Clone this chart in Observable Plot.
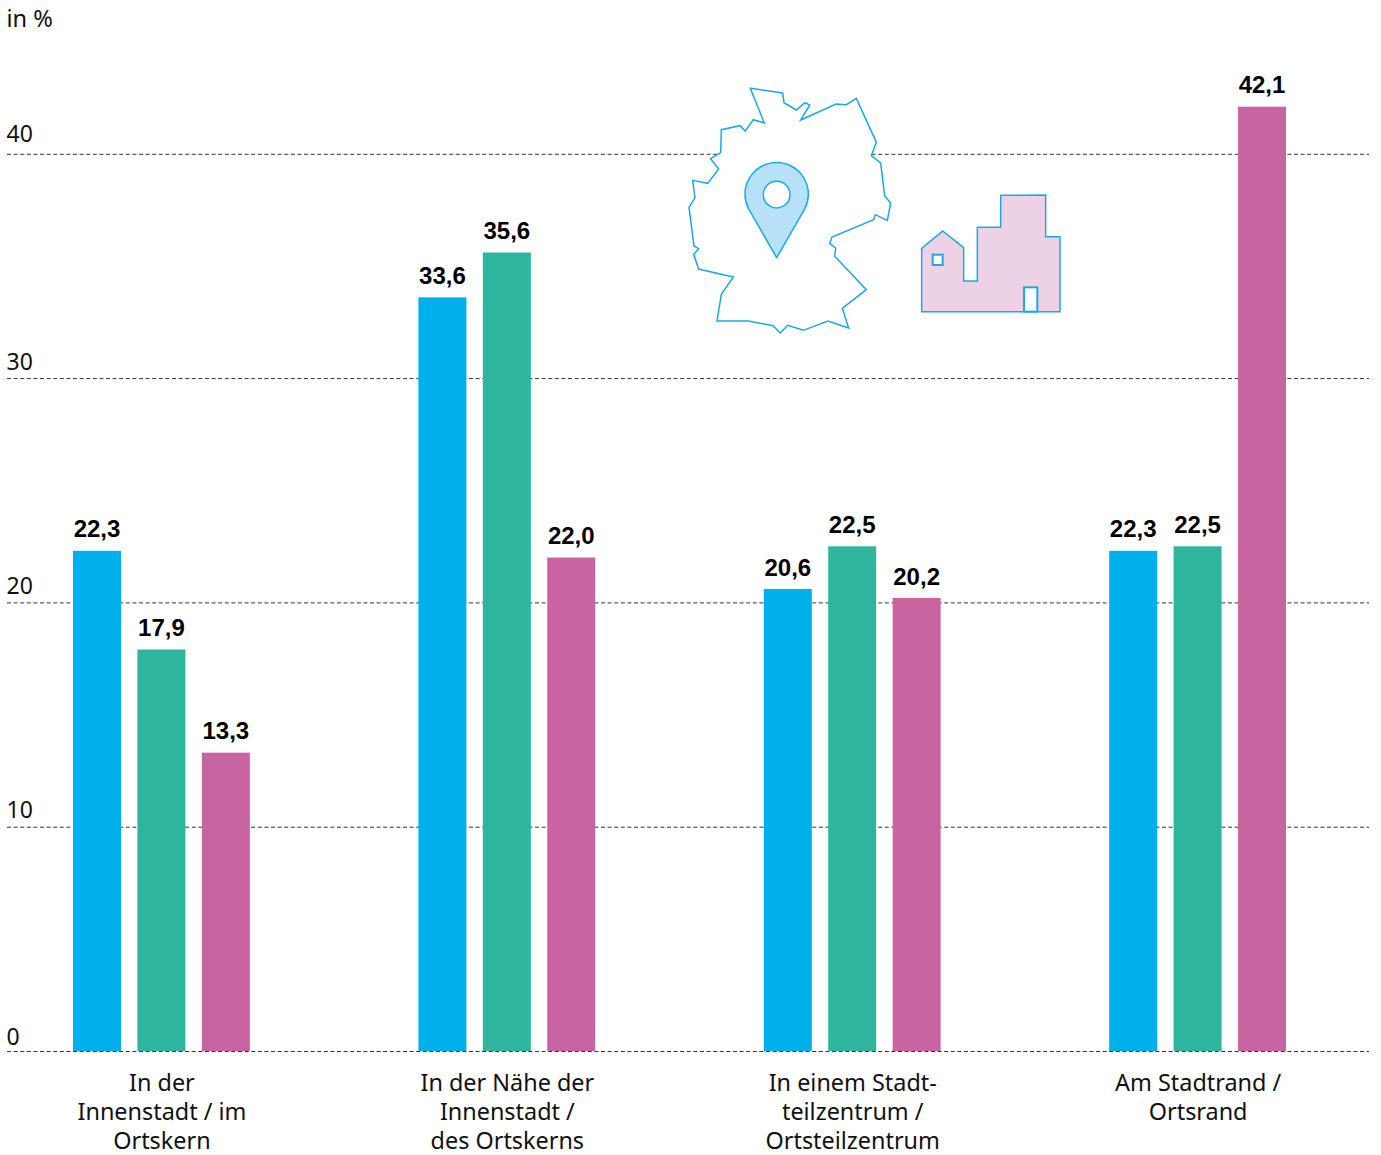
<!DOCTYPE html>
<html lang="de">
<head>
<meta charset="utf-8">
<script src="https://cdn.jsdelivr.net/npm/d3@7"></script>
<script src="https://cdn.jsdelivr.net/npm/@observablehq/plot@0.6"></script>
<style>
  html, body { margin: 0; padding: 0; background: #fff; }
  svg { display: block; }
</style>
</head>
<body>
<div id="chart"></div>
<script>
// Share per location, three series in each group
const locations = [
  "In der\nInnenstadt / im\nOrtskern",
  "In der Nähe der\nInnenstadt /\ndes Ortskerns",
  "In einem Stadt-\nteilzentrum /\nOrtsteilzentrum",
  "Am Stadtrand /\nOrtsrand"
];
const seriesNames = ["A", "B", "C"];
const seriesColors = ["#00b0eb", "#2db59d", "#c964a3"];
const valuesA = [22.3, 33.6, 20.6, 22.3];
const valuesB = [17.9, 35.6, 22.5, 22.5];
const valuesC = [13.3, 22.0, 20.2, 42.1];
const yTicks = [0, 10, 20, 30, 40];
const tickLift = [-14, -17, -16.5, -16, -19.5];

const rows = locations.flatMap((location, g) =>
  [valuesA, valuesB, valuesC].map((values, s) => ({
    location, g, s, series: seriesNames[s], value: values[g]
  }))
);

// x runs in group units: one unit is the distance between neighbouring groups
const slot = 0.1865;
const barWidth = 0.139;
const left = d => d.g + d.s * slot;
const right = d => left(d) + barWidth;
const groupCentre = g => g + slot + barWidth / 2;

const font = "'Noto Sans', sans-serif";

// Outline of Germany with a location pin, and the small town silhouette
function icons() {
  const blue = "#1ba9e6";
  const germany = [[211,25],[308,39],[312,68],[349,90],[375,68],[389,75],[362,120],[468,72],[499,74],[529,55],[589,187],[574,227],[602,249],[614,348],[632,369],[622,421],[586,404],[581,419],[456,471],[449,491],[467,504],[464,529],[559,629],[487,685],[506,744],[444,723],[370,751],[323,736],[301,759],[279,737],[205,723],[111,723],[124,643],[160,591],[56,567],[41,523],[56,506],[42,498],[27,382],[45,353],[38,301],[83,310],[116,267],[92,236],[122,218],[124,149],[180,137],[196,153],[220,119],[253,129]];
  const town = [[35,380],[35,190],[98,138],[161,188],[161,288],[202,288],[202,127],[272,127],[272,31],[407,30],[407,155],[450,155],[450,380]];
  const g = d3.create("svg:g");
  const map = g.append("g").attr("transform", "translate(680,80) scale(0.33333)");
  map.append("path").attr("d", d3.line()(germany) + "Z")
    .attr("fill", "#fff").attr("stroke", blue).attr("stroke-width", 4.5).attr("stroke-linejoin", "miter");
  map.append("path").attr("d", "M290 533L205 385A95 95 0 1 1 375 385Z")
    .attr("fill", "#b6e1f8").attr("stroke", blue).attr("stroke-width", 4.5).attr("stroke-linejoin", "round");
  map.append("circle").attr("cx", 290).attr("cy", 344).attr("r", 40)
    .attr("fill", "#fff").attr("stroke", blue).attr("stroke-width", 4.5);
  const house = g.append("g").attr("transform", "translate(910,185) scale(0.33333)");
  house.append("path").attr("d", d3.line()(town) + "Z")
    .attr("fill", "#edd1e5").attr("stroke", blue).attr("stroke-width", 4.5);
  house.append("rect").attr("x", 68).attr("y", 209).attr("width", 30).attr("height", 31)
    .attr("fill", "#fff").attr("stroke", blue).attr("stroke-width", 6);
  house.append("rect").attr("x", 342).attr("y", 307).attr("width", 40).attr("height", 73)
    .attr("fill", "#fff").attr("stroke", blue).attr("stroke-width", 6);
  return g.node();
}

const chart = Plot.plot({
  width: 1381,
  height: 1155,
  marginTop: 0,
  marginLeft: 7,
  marginRight: 12,
  marginBottom: 104,
  style: { background: "#fff", fontFamily: font },
  x: { domain: [-0.19108, 3.7522], axis: null },
  y: { domain: [0, 1051 / 22.43], axis: null },
  color: { domain: seriesNames, range: seriesColors },
  marks: [
    Plot.ruleY(yTicks, { stroke: "#333", strokeWidth: 1, strokeDasharray: "4,2.6" }),
    Plot.rectY(rows, { x1: left, x2: right, y1: 0, y2: "value", fill: "series" }),
    icons,
    Plot.text(rows, {
      x: d => (left(d) + right(d)) / 2,
      y: "value",
      text: d => d3.format(".1f")(d.value).replace(".", ","),
      dy: -21.5,
      dx: -0.5,
      fontSize: 24,
      fontWeight: 700,
      fontFamily: "'Liberation Sans', sans-serif",
      fill: "#000"
    }),
    ...yTicks.map((t, i) =>
      Plot.text([t], {
        y: d => d,
        frameAnchor: "left",
        textAnchor: "start",
        dx: -1,
        dy: tickLift[i],
        fontSize: 23,
        fill: "#111"
      })
    ),
    Plot.text(["in %"], {
      frameAnchor: "top-left",
      dx: -1,
      dy: 10,
      fontSize: 23.6,
      fill: "#111"
    }),
    Plot.text(locations, {
      x: (d, i) => groupCentre(i),
      y: 0,
      text: d => d,
      lineAnchor: "top",
      lineHeight: 1.235,
      dy: 19,
      fontSize: 23.4,
      fill: "#111"
    })
  ]
});

document.getElementById("chart").append(chart);
</script>
</body>
</html>
